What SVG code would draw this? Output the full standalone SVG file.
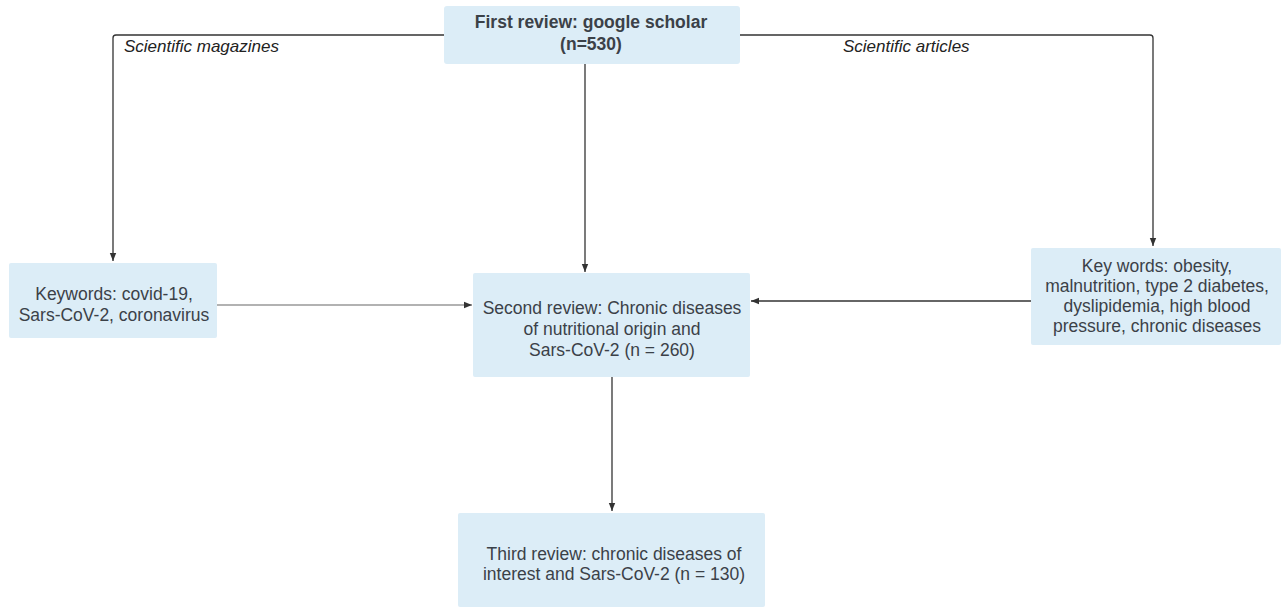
<svg xmlns="http://www.w3.org/2000/svg" width="1282" height="607" viewBox="0 0 1282 607">
<defs>
<marker id="ah" viewBox="0 0 10 10" refX="10" refY="5" markerWidth="8" markerHeight="8" markerUnits="userSpaceOnUse" orient="auto">
<path d="M0,1 L10,5 L0,9 Z" fill="#333"/>
</marker>
<style>
.box{fill:#dcedf7;}
.t{font-family:"Liberation Sans",Arial,sans-serif;font-size:17.5px;fill:#3b4148;text-anchor:middle;}
.b{font-weight:bold;}
.lbl{font-family:"Liberation Sans",Arial,sans-serif;font-size:17px;font-style:italic;fill:#222;}
.c{fill:none;stroke:#333;stroke-width:1.3;}
</style>
</defs>
<rect width="1282" height="607" fill="#fff"/>
<g id="connectors">
<path class="c" d="M444,35 H116 Q113,35 113,38 V261" marker-end="url(#ah)"/>
<path class="c" d="M740,35 H1150 Q1153,35 1153,38 V246" marker-end="url(#ah)"/>
<path class="c" d="M585,64 V272" marker-end="url(#ah)"/>
<path class="c" d="M217,305 H472" style="stroke:#999" marker-end="url(#ah)"/>
<path class="c" d="M1031,301 H751" marker-end="url(#ah)"/>
<path class="c" d="M612,377 V511" marker-end="url(#ah)"/>
<text class="lbl" x="124" y="52">Scientific magazines</text>
<text class="lbl" x="843" y="52">Scientific articles</text>
</g>
<g id="first">
<rect class="box" x="444" y="6" width="296" height="58" rx="3"/>
<text class="t b" x="591" y="28">First review: google scholar</text>
<text class="t b" x="591" y="50">(n=530)</text>
</g>
<g id="keywords">
<rect class="box" x="9" y="263" width="208" height="75" rx="2"/>
<text class="t" x="114" y="300">Keywords: covid-19,</text>
<text class="t" x="114" y="321">Sars-CoV-2, coronavirus</text>
</g>
<g id="second">
<rect class="box" x="473" y="273" width="277" height="104" rx="2"/>
<text class="t" x="612" y="314">Second review: Chronic diseases</text>
<text class="t" x="612" y="335">of nutritional origin and</text>
<text class="t" x="612" y="356">Sars-CoV-2 (n = 260)</text>
</g>
<g id="keywords2">
<rect class="box" x="1031" y="248" width="250" height="97" rx="2"/>
<text class="t" x="1157" y="272">Key words: obesity,</text>
<text class="t" x="1157" y="292">malnutrition, type 2 diabetes,</text>
<text class="t" x="1157" y="312">dyslipidemia, high blood</text>
<text class="t" x="1157" y="332">pressure, chronic diseases</text>
</g>
<g id="third">
<rect class="box" x="458" y="513" width="307" height="94" rx="2"/>
<text class="t" x="614" y="560">Third review: chronic diseases of</text>
<text class="t" x="614" y="580">interest and Sars-CoV-2 (n = 130)</text>
</g>
</svg>
